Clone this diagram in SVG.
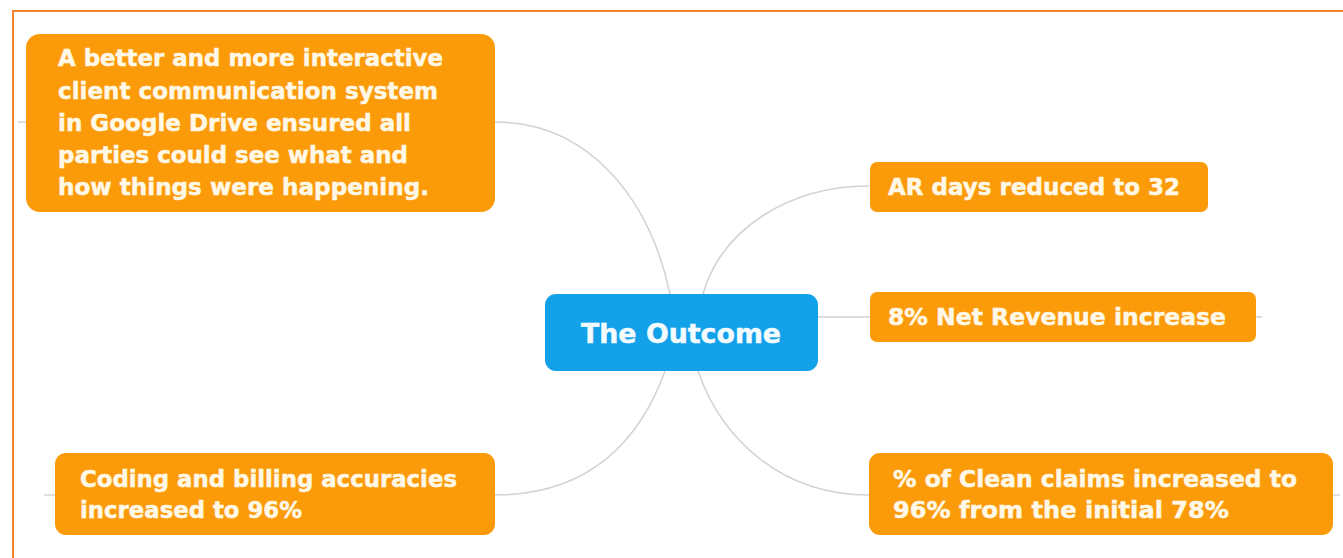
<svg xmlns="http://www.w3.org/2000/svg" width="1343" height="558" viewBox="0 0 1343 558">
  <style>
    .link { fill: none; stroke: #d3d3d5; stroke-width: 1.6; }
    .topic { fill: #fb9b0a; }
    .central { fill: #13a1ea; }
    .label { font-family: "DejaVu Sans", "Liberation Sans", sans-serif; font-weight: bold; font-size: 23px; fill: #fff8e6; stroke: #fff8e6; stroke-width: 0.5; }
    .title { font-family: "DejaVu Sans", "Liberation Sans", sans-serif; font-weight: bold; font-size: 27px; fill: #f4fbff; stroke: #f4fbff; stroke-width: 0.5; }
  </style>

  <rect x="0" y="0" width="1343" height="558" fill="#ffffff"/>

  <!-- outer frame: top and left edges -->
  <path d="M13,558 V11 H1343" fill="none" stroke="#f4822f" stroke-width="2"/>

  <!-- branch lines, drawn under the topic boxes -->
  <g id="connectors">
    <path class="link" d="M18,122 H495 C590,122 650,200 670,294"/>
    <path class="link" d="M703,294 C722,228 790,186 869,186"/>
    <path class="link" d="M818,317 H1262"/>
    <path class="link" d="M665,371 C640,440 590,495 495,495 H44"/>
    <path class="link" d="M698,371 C722,440 782,495 869,495 H1340"/>
  </g>

  <g id="node-communication">
    <rect class="topic" x="26" y="34" width="469" height="178" rx="14"/>
    <text class="label" x="58" y="66" textLength="385" lengthAdjust="spacingAndGlyphs">A better and more interactive</text>
    <text class="label" x="58" y="99" textLength="380" lengthAdjust="spacingAndGlyphs">client communication system</text>
    <text class="label" x="58" y="131" textLength="353" lengthAdjust="spacingAndGlyphs">in Google Drive ensured all</text>
    <text class="label" x="58" y="163" textLength="350" lengthAdjust="spacingAndGlyphs">parties could see what and</text>
    <text class="label" x="58" y="195" textLength="371" lengthAdjust="spacingAndGlyphs">how things were happening.</text>
  </g>

  <g id="node-ar-days">
    <rect class="topic" x="870" y="162" width="338" height="50" rx="7"/>
    <text class="label" x="888" y="195" textLength="292" lengthAdjust="spacingAndGlyphs">AR days reduced to 32</text>
  </g>

  <g id="node-net-revenue">
    <rect class="topic" x="870" y="292" width="386" height="50" rx="7"/>
    <text class="label" x="888" y="325" textLength="338" lengthAdjust="spacingAndGlyphs">8% Net Revenue increase</text>
  </g>

  <g id="node-outcome">
    <rect class="central" x="545" y="294" width="273" height="77" rx="11"/>
    <text class="title" x="681" y="343" text-anchor="middle" textLength="200" lengthAdjust="spacingAndGlyphs">The Outcome</text>
  </g>

  <g id="node-coding">
    <rect class="topic" x="55" y="453" width="440" height="82" rx="11"/>
    <text class="label" x="80" y="487" textLength="377" lengthAdjust="spacingAndGlyphs">Coding and billing accuracies</text>
    <text class="label" x="80" y="518" textLength="222" lengthAdjust="spacingAndGlyphs">increased to 96%</text>
  </g>

  <g id="node-clean-claims">
    <rect class="topic" x="869" y="453" width="464" height="82" rx="11"/>
    <text class="label" x="893" y="487" textLength="404" lengthAdjust="spacingAndGlyphs">% of Clean claims increased to</text>
    <text class="label" x="893" y="518" textLength="336" lengthAdjust="spacingAndGlyphs">96% from the initial 78%</text>
  </g>
</svg>
